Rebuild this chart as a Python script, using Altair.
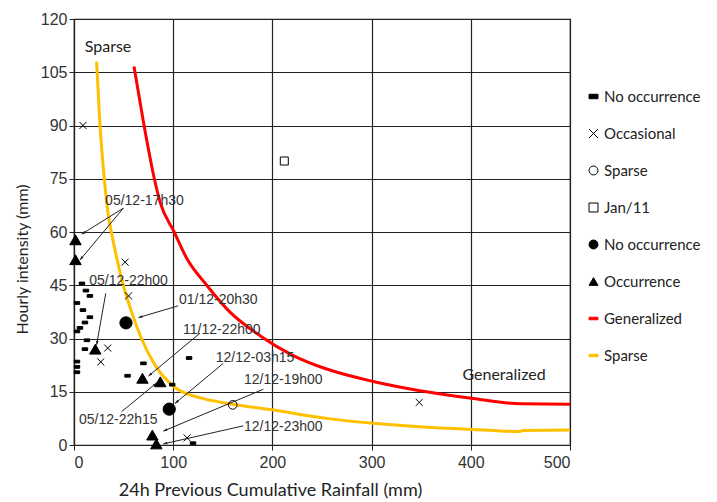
import math
import altair as alt
import pandas as pd

# ---------------- data ----------------
dash_x = [8, 12, 16, 3, 9, 16, 11, 6, 3, 13, 11, 3, 3, 3, 54, 70, 99, 116, 120]
dash_y = [45.5, 43.5, 42, 40, 38, 36, 34.5, 33, 32, 29.5, 27, 23.5, 22, 20.5, 19.5, 23, 17, 24.5, 0.5]

occ_x = [9, 51.5, 55, 34, 27, 114, 348]
occ_y = [90, 51.5, 42, 27.3, 23.4, 2, 12]

sparse_x = [160]
sparse_y = [11.3]

jan_x = [212]
jan_y = [80]

dot_x = [52.4, 96]
dot_y = [34.4, 10.1]

tri_x = [1.5, 1.5, 21.5, 69, 87, 79, 83]
tri_y = [57.8, 52.2, 27, 18.8, 17.8, 2.8, 0.3]

gen_x = [60.5, 70, 81, 86.7, 101, 113.6, 133.8, 157, 187.5, 221, 254.7, 301.7, 348.8, 402.5, 450, 500]
gen_y = [106.6, 91, 75, 68.5, 60, 52.6, 45, 37.5, 30.8, 25.2, 21.4, 17.9, 15.3, 13.1, 11.6, 11.5]

spr_x = [22.8, 26, 30.5, 34.6, 39.6, 44.7, 49.7, 58, 68, 81.7, 101.8, 128.7, 160, 200, 254.7, 301.7, 355.6, 402.5, 449.6, 452, 500]
spr_y = [108, 91, 75.1, 64.8, 57.3, 50.7, 45, 37.5, 30, 22.5, 16.2, 13.2, 11.5, 9.9, 7.5, 6.1, 5.0, 4.4, 3.8, 4.1, 4.2]

ann_label = ["05/12-17h30", "05/12-22h00", "01/12-20h30", "11/12-22h00",
             "12/12-03h15", "12/12-19h00", "12/12-23h00", "05/12-22h15"]
ann_x = [71, 55, 145.5, 149, 182.5, 211, 211, 44.7]
ann_y = [68.8, 46.3, 40.8, 32.4, 24.6, 18.3, 5.2, 7]

arr_x1 = [49.7, 49.7, 32, 105, 127, 150.5, 190.8, 170.7, 48]
arr_y1 = [66.7, 66.7, 42.7, 39.2, 31.5, 23, 15.7, 5.4, 9.4]
arr_x2 = [7.8, 6, 22.8, 65, 75, 101.8, 90, 90, 83.4]
arr_y2 = [59.4, 52.1, 28.2, 35.9, 19.4, 11.7, 3.9, 0.3, 17.5]

zone_label = ["Sparse", "Generalized"]
zone_x = [34.3, 433.5]
zone_y = [112.2, 19.7]

x_ticks = [0, 100, 200, 300, 400, 500]
y_ticks = [0, 15, 30, 45, 60, 75, 90, 105, 120]

# legend categories (trailing spaces keep repeated names distinct)
cats = ["No occurrence", "Occasional", "Sparse", "Jan/11",
        "No occurrence ", "Occurrence", "Generalized", "Sparse "]

# ---------------- layout / styles ----------------
W, H = 496, 426
kx, ky = W / 500, H / 120

sizes = {cats[0]: 30, cats[1]: 50, cats[2]: 75, cats[3]: 64, cats[4]: 150, cats[5]: 130}

rows = []
for xs, ys, c in [(dash_x, dash_y, cats[0]), (occ_x, occ_y, cats[1]),
                  (sparse_x, sparse_y, cats[2]), (jan_x, jan_y, cats[3]),
                  (dot_x, dot_y, cats[4]), (tri_x, tri_y, cats[5])]:
    for a, b in zip(xs, ys):
        rows.append({"x": a, "y": b, "cat": c, "sz": sizes[c]})
pts = pd.DataFrame(rows)

gen = pd.DataFrame({"x": gen_x, "y": gen_y, "i": range(len(gen_x))})
spr = pd.DataFrame({"x": spr_x, "y": spr_y, "i": range(len(spr_x))})

ang = []
for a1, b1, a2, b2 in zip(arr_x1, arr_y1, arr_x2, arr_y2):
    dxp = (a2 - a1) * kx
    dyp = -(b2 - b1) * ky
    ang.append(math.degrees(math.atan2(dxp, -dyp)) % 360)
arr = pd.DataFrame({"x": arr_x1, "y": arr_y1, "x2": arr_x2, "y2": arr_y2, "ang": ang})
ann = pd.DataFrame({"x": ann_x, "y": ann_y, "t": ann_label})
zones = pd.DataFrame({"x": zone_x, "y": zone_y, "t": zone_label})

FONT = "Liberation Sans"

xenc = alt.X("x:Q", scale=alt.Scale(domain=[0, 500], nice=False, zero=False),
             axis=alt.Axis(values=x_ticks, title="24h Previous Cumulative Rainfall (mm)",
                           labelFontSize=16, labelFont=FONT, labelColor="#333",
                           titleFont="Lato", titleFontSize=18,
                           titleFontWeight="normal", titleColor="#222",
                           titleX=196, titleY=36, titleAlign="center",
                           labelPadding=4, tickSize=5))
yenc = alt.Y("y:Q", scale=alt.Scale(domain=[0, 120], nice=False, zero=False),
             axis=alt.Axis(values=y_ticks, title="Hourly intensity (mm)",
                           labelFontSize=16, labelFont=FONT, labelColor="#333",
                           titleFont="Lato", titleFontSize=16, titleFontWeight="normal",
                           titleColor="#222", titleX=-52, titleY=240,
                           titleAlign="center", titleBaseline="middle", tickSize=5))

dash_path = "M-1,-0.5H1V0.5H-1Z"
x_path = "M-1,-1L1,1M-1,1L1,-1"
line_path = "M-1,-0.28H1V0.28H-1Z"
shapes = [dash_path, x_path, "circle", "square", "circle", "triangle-up", line_path, line_path]
fills = ["black", "transparent", "transparent", "transparent", "black", "black", "#ff0000", "#ffc000"]
strokes = ["black", "black", "black", "black", "black", "black", "#ff0000", "#ffc000"]

leg = alt.Legend(title=None, orient="none", legendX=512, legendY=70,
                 labelFont="Lato", labelFontSize=15, labelColor="#222",
                 rowPadding=21, symbolStrokeWidth=1, labelOffset=3, symbolSize=80)

points = alt.Chart(pts).mark_point(opacity=1, strokeWidth=1).encode(
    x=xenc, y=yenc,
    shape=alt.Shape("cat:N", scale=alt.Scale(domain=cats, range=shapes), legend=leg),
    fill=alt.Fill("cat:N", scale=alt.Scale(domain=cats, range=fills), legend=leg),
    stroke=alt.Stroke("cat:N", scale=alt.Scale(domain=cats, range=strokes), legend=leg),
    size=alt.Size("sz:Q", scale=None),
)

gen_line = alt.Chart(gen).mark_line(color="#ff0000", strokeWidth=3, interpolate="monotone").encode(
    x="x:Q", y="y:Q", order="i:Q")
spr_line = alt.Chart(spr).mark_line(color="#ffc000", strokeWidth=3, interpolate="monotone").encode(
    x="x:Q", y="y:Q", order="i:Q")

rules = alt.Chart(arr).mark_rule(color="#222", strokeWidth=1).encode(
    x="x:Q", y="y:Q", x2="x2:Q", y2="y2:Q")
heads = alt.Chart(arr).mark_point(shape="M0,0L0.4,1.2L-0.4,1.2Z", filled=True,
                                  color="#222", size=45, opacity=1).encode(
    x="x2:Q", y="y2:Q", angle=alt.Angle("ang:Q", scale=None))

texts = alt.Chart(ann).mark_text(font=FONT, fontSize=14, color="#333").encode(
    x="x:Q", y="y:Q", text="t:N")
ztexts = alt.Chart(zones).mark_text(font="Lato", fontSize=16, color="#222").encode(
    x="x:Q", y="y:Q", text="t:N")

chart = alt.layer(spr_line, gen_line, rules, heads, texts, ztexts, points).properties(
    width=W, height=H,
    padding={"left": 74, "top": 19, "right": 147, "bottom": 57},
    autosize=alt.AutoSizeParams(type="none"),
    background="white",
).configure_view(stroke="#222", strokeWidth=1.2).configure_axis(
    grid=True, gridColor="#222", gridWidth=1.2, gridOpacity=1,
    domainColor="#222", domainWidth=1.2, tickColor="#222",
)

chart.save("out.html", embed_options={"renderer": "svg", "actions": False})
